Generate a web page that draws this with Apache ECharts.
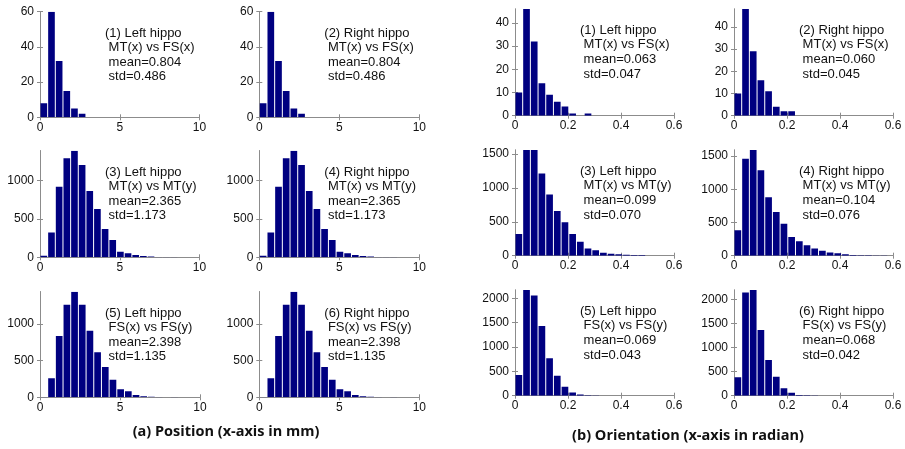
<!DOCTYPE html>
<html>
<head>
<meta charset="utf-8">
<script src="https://cdn.jsdelivr.net/npm/echarts@6/dist/echarts.min.js"></script>
<style>
html, body { margin: 0; padding: 0; background: #fff; }
#chart { width: 905px; height: 449px; }
</style>
</head>
<body>
<div id="chart"></div>
<script>
// ---- (a) Position, x-axis in mm ----
const posBinWidth = 0.48;
const posXMax = 10;
const posXTicks = [0, 5, 10];

const posA1 = [8, 60, 32, 15, 5, 2];
const posA2 = [8, 60, 32, 15, 5, 2];
const posA3 = [20, 322, 922, 1291, 1391, 1204, 865, 630, 370, 226, 74, 52, 30, 17, 9, 5, 4, 3];
const posA4 = [20, 322, 922, 1291, 1391, 1204, 865, 630, 370, 226, 74, 52, 30, 17, 9, 5, 4, 3];
const posA5 = [5, 259, 836, 1264, 1441, 1264, 909, 614, 414, 241, 109, 82, 32, 14, 9, 5, 2, 4];
const posA6 = [5, 259, 836, 1264, 1441, 1264, 909, 614, 414, 241, 109, 82, 32, 14, 9, 5, 2, 4];

const yTicksA12 = [0, 20, 40, 60];
const yTicksA3456 = [0, 500, 1000];
const yMaxA = [60, 60, 1391, 1391, 1441, 1441];

// ---- (b) Orientation, x-axis in radian ----
const oriBinWidth = 0.029;
const oriXMax = 0.6;
const oriXTicks = [0, 0.2, 0.4, 0.6];

const oriB1 = [10, 46, 32, 14, 9, 6, 4, 1, 0, 1];
const oriB2 = [10, 48, 29, 16, 11, 4, 2, 2];
const oriB3 = [320, 1560, 1560, 1215, 905, 659, 492, 320, 207, 108, 79, 44, 30, 20, 15, 10, 10];
const oriB4 = [382, 1460, 1590, 1287, 880, 656, 482, 283, 219, 159, 109, 75, 50, 35, 20, 12, 8, 5, 3, 3];
const oriB5 = [425, 2170, 2055, 1432, 767, 411, 185, 68, 27, 10, 5];
const oriB6 = [382, 2150, 2200, 1368, 743, 396, 153, 62, 15, 8, 3];

const yTicksB12 = [0, 10, 20, 30, 40];
const yTicksB34 = [0, 500, 1000, 1500];
const yTicksB56 = [0, 500, 1000, 1500, 2000];
const yMaxB = [46, 48, 1560, 1590, 2170, 2200];

// 每个子图的说明文字
const notesA = [
    ['(1) Left hippo', 'MT(x) vs FS(x)', 'mean=0.804', 'std=0.486'],
    ['(2) Right hippo', 'MT(x) vs FS(x)', 'mean=0.804', 'std=0.486'],
    ['(3) Left hippo', 'MT(x) vs MT(y)', 'mean=2.365', 'std=1.173'],
    ['(4) Right hippo', 'MT(x) vs MT(y)', 'mean=2.365', 'std=1.173'],
    ['(5) Left hippo', 'FS(x) vs FS(y)', 'mean=2.398', 'std=1.135'],
    ['(6) Right hippo', 'FS(x) vs FS(y)', 'mean=2.398', 'std=1.135']
];
const notesB = [
    ['(1) Left hippo', 'MT(x) vs FS(x)', 'mean=0.063', 'std=0.047'],
    ['(2) Right hippo', 'MT(x) vs FS(x)', 'mean=0.060', 'std=0.045'],
    ['(3) Left hippo', 'MT(x) vs MT(y)', 'mean=0.099', 'std=0.070'],
    ['(4) Right hippo', 'MT(x) vs MT(y)', 'mean=0.104', 'std=0.076'],
    ['(5) Left hippo', 'FS(x) vs FS(y)', 'mean=0.069', 'std=0.043'],
    ['(6) Right hippo', 'FS(x) vs FS(y)', 'mean=0.068', 'std=0.042']
];

const captionA = '(a) Position (x-axis in mm)';
const captionB = '(b) Orientation (x-axis in radian)';

// 子图位置 [left, top, width, height]
const boxes = [
    [40, 11.7, 159.5, 105.6], [259.3, 11.7, 160, 105.6],
    [40, 150.7, 159.5, 106.6], [259.3, 150.7, 160, 106.6],
    [40, 291.7, 160, 105.6], [259.3, 291.7, 160, 105.6],
    [515, 9, 159, 106.7], [734, 9, 159, 106.7],
    [515, 150, 159, 105.7], [734, 150, 159, 105.7],
    [515, 290, 159, 105.7], [734, 290, 159, 105.7]
];

const FONT = '"Liberation Sans", Arial, sans-serif';
const BAR = '#000080';
const AXIS = '#8c8c8c';

const panels = [
    { counts: posA1, bin: posBinWidth, xMax: posXMax, xTicks: posXTicks, yMax: yMaxA[0], yTicks: yTicksA12, note: notesA[0] },
    { counts: posA2, bin: posBinWidth, xMax: posXMax, xTicks: posXTicks, yMax: yMaxA[1], yTicks: yTicksA12, note: notesA[1] },
    { counts: posA3, bin: posBinWidth, xMax: posXMax, xTicks: posXTicks, yMax: yMaxA[2], yTicks: yTicksA3456, note: notesA[2] },
    { counts: posA4, bin: posBinWidth, xMax: posXMax, xTicks: posXTicks, yMax: yMaxA[3], yTicks: yTicksA3456, note: notesA[3] },
    { counts: posA5, bin: posBinWidth, xMax: posXMax, xTicks: posXTicks, yMax: yMaxA[4], yTicks: yTicksA3456, note: notesA[4] },
    { counts: posA6, bin: posBinWidth, xMax: posXMax, xTicks: posXTicks, yMax: yMaxA[5], yTicks: yTicksA3456, note: notesA[5] },
    { counts: oriB1, bin: oriBinWidth, xMax: oriXMax, xTicks: oriXTicks, yMax: yMaxB[0], yTicks: yTicksB12, note: notesB[0] },
    { counts: oriB2, bin: oriBinWidth, xMax: oriXMax, xTicks: oriXTicks, yMax: yMaxB[1], yTicks: yTicksB12, note: notesB[1] },
    { counts: oriB3, bin: oriBinWidth, xMax: oriXMax, xTicks: oriXTicks, yMax: yMaxB[2], yTicks: yTicksB34, note: notesB[2] },
    { counts: oriB4, bin: oriBinWidth, xMax: oriXMax, xTicks: oriXTicks, yMax: yMaxB[3], yTicks: yTicksB34, note: notesB[3] },
    { counts: oriB5, bin: oriBinWidth, xMax: oriXMax, xTicks: oriXTicks, yMax: yMaxB[4], yTicks: yTicksB56, note: notesB[4] },
    { counts: oriB6, bin: oriBinWidth, xMax: oriXMax, xTicks: oriXTicks, yMax: yMaxB[5], yTicks: yTicksB56, note: notesB[5] }
];

// 直方图矩形
function renderBar(params, api) {
    const p0 = api.coord([api.value(0), 0]);
    const p1 = api.coord([api.value(1), api.value(2)]);
    const w = p1[0] - p0[0] - 1;
    const h = p0[1] - p1[1];
    if (h <= 0) return null;
    return {
        type: 'rect',
        shape: { x: p0[0] + 0.5, y: p1[1], width: w, height: h },
        style: { fill: BAR }
    };
}

// 刻度标签不加千分位
function plainLabel(value) {
    return String(value);
}

const grid = [], xAxis = [], yAxis = [], series = [], graphic = [];

panels.forEach((p, i) => {
    const b = boxes[i];
    grid.push({ left: b[0], top: b[1], width: b[2], height: b[3], show: false });

    const tickStyle = { show: true, inside: true, length: 3, lineStyle: { color: AXIS } };
    const lineStyle = { show: true, lineStyle: { color: AXIS, width: 1 } };
    const label = { color: '#111', fontSize: 12, fontFamily: FONT, formatter: plainLabel };

    // 下方 x 轴
    xAxis.push({
        type: 'value', gridIndex: i, min: 0, max: p.xMax, position: 'bottom',
        axisLine: lineStyle,
        axisTick: Object.assign({ customValues: p.xTicks }, tickStyle),
        axisLabel: Object.assign({ customValues: p.xTicks, margin: 4 }, label),
        splitLine: { show: false }
    });
    // 上方边框
    xAxis.push({
        type: 'value', gridIndex: i, min: 0, max: p.xMax, position: 'top',
        axisLine: lineStyle,
        axisTick: Object.assign({ customValues: p.xTicks }, tickStyle),
        axisLabel: { show: false },
        splitLine: { show: false }
    });
    // 左侧 y 轴
    yAxis.push({
        type: 'value', gridIndex: i, min: 0, max: p.yMax, position: 'left',
        axisLine: lineStyle,
        axisTick: Object.assign({ customValues: p.yTicks }, tickStyle),
        axisLabel: Object.assign({ customValues: p.yTicks, margin: 6 }, label),
        splitLine: { show: false }
    });
    // 右侧边框
    yAxis.push({
        type: 'value', gridIndex: i, min: 0, max: p.yMax, position: 'right',
        axisLine: lineStyle,
        axisTick: Object.assign({ customValues: p.yTicks }, tickStyle),
        axisLabel: { show: false },
        splitLine: { show: false }
    });

    series.push({
        type: 'custom',
        xAxisIndex: i * 2,
        yAxisIndex: i * 2,
        renderItem: renderBar,
        encode: { x: [0, 1], y: 2 },
        clip: true,
        silent: true,
        animation: false,
        data: p.counts.map((c, k) => [k * p.bin, (k + 1) * p.bin, c])
    });

    graphic.push({
        type: 'text',
        left: b[0] + 65,
        top: b[1] + 14,
        silent: true,
        style: {
            text: p.note[0] + '\n ' + p.note.slice(1).join('\n '),
            fontSize: 13,
            lineHeight: 14.6,
            fontFamily: FONT,
            fill: '#111'
        }
    });
});

graphic.push({
    type: 'text', x: 226, y: 432, silent: true,
    style: { text: captionA, align: 'center', verticalAlign: 'middle', fontSize: 14.5, fontWeight: 'bold', fontFamily: '"Open Sans", sans-serif', fill: '#111' }
});
graphic.push({
    type: 'text', x: 688, y: 436, silent: true,
    style: { text: captionB, align: 'center', verticalAlign: 'middle', fontSize: 14.5, fontWeight: 'bold', fontFamily: '"Open Sans", sans-serif', fill: '#111' }
});

const chart = echarts.init(document.getElementById('chart'));
chart.setOption({
    backgroundColor: '#fff',
    animation: false,
    grid: grid,
    xAxis: xAxis,
    yAxis: yAxis,
    series: series,
    graphic: graphic
});
</script>
</body>
</html>
